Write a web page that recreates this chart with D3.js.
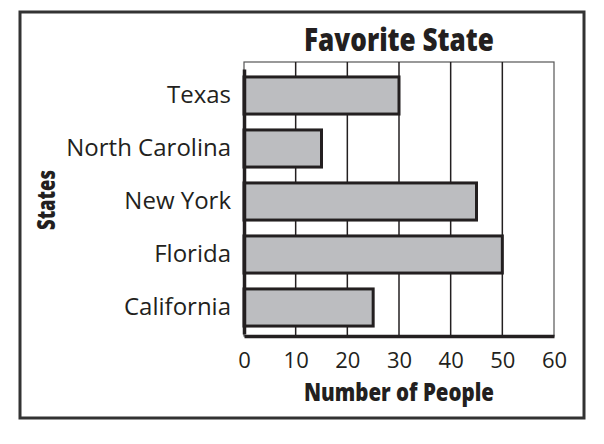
<!DOCTYPE html>
<html>
<head>
<meta charset="utf-8">
<script src="https://cdn.jsdelivr.net/npm/d3@7"></script>
<style>
  body { margin: 0; background: #fff; }
  .label { font-family: "Open Sans", "Noto Sans", sans-serif; fill: #231f20; }
  .heavy { font-family: "Open Sans", "Noto Sans", sans-serif; font-weight: 800; fill: #231f20; }
</style>
</head>
<body>
<div id="chart"></div>
<script>
// Favorite State - horizontal bar chart

let states = ["Texas", "North Carolina", "New York", "Florida", "California"];
let people = [30, 15, 45, 50, 25];
let peopleTicks = [0, 10, 20, 30, 40, 50, 60];

let width = 604, height = 444;
let margin = { top: 62, right: 50, bottom: 108, left: 244 };
let innerW = width - margin.left - margin.right;
let innerH = height - margin.top - margin.bottom;

let svg = d3.select("#chart").append("svg")
    .attr("width", width)
    .attr("height", height);

// outer frame
svg.append("rect")
    .attr("x", 20).attr("y", 12)
    .attr("width", 564).attr("height", 406)
    .attr("fill", "none")
    .attr("stroke", "#333")
    .attr("stroke-width", 3);

let g = svg.append("g")
    .attr("transform", "translate(" + margin.left + "," + margin.top + ")");

let x = d3.scaleLinear()
    .domain([0, 60])
    .range([0, innerW]);

let y = d3.scaleBand()
    .domain(states)
    .range([7, innerH - 2])
    .paddingInner(0.3)
    .paddingOuter(0.15);

// plot box (thin top/right)
g.append("rect")
    .attr("width", innerW).attr("height", innerH)
    .attr("fill", "none")
    .attr("stroke", "#555")
    .attr("stroke-width", 1.2);

// vertical grid lines
g.selectAll(".grid")
    .data(peopleTicks.slice(1, -1))
    .enter().append("line")
    .attr("class", "grid")
    .attr("x1", d => x(d)).attr("x2", d => x(d))
    .attr("y1", 0).attr("y2", innerH)
    .attr("stroke", "#231f20")
    .attr("stroke-width", 1.5);

// bars
g.selectAll(".bar")
    .data(people)
    .enter().append("rect")
    .attr("class", "bar")
    .attr("x", 0)
    .attr("y", (d, i) => y(states[i]))
    .attr("width", d => x(d))
    .attr("height", y.bandwidth())
    .attr("fill", "#bcbdc0")
    .attr("stroke", "#231f20")
    .attr("stroke-width", 3);

// axes
let xAxis = d3.axisBottom(x).tickValues(peopleTicks).tickSize(0).tickPadding(16);
let yAxis = d3.axisLeft(y).tickSize(0).tickPadding(13);

let xg = g.append("g")
    .attr("transform", "translate(0," + innerH + ")")
    .call(xAxis);
xg.select(".domain").attr("stroke", "#231f20").attr("stroke-width", 3.5);
xg.selectAll("text").attr("class", "label").attr("font-size", 22);

let yg = g.append("g").call(yAxis);
yg.select(".domain").attr("stroke", "#231f20").attr("stroke-width", 3.5);
yg.selectAll("text").attr("class", "label").attr("font-size", 24).attr("dy", "0.3em");

// title and axis titles, squeezed to look condensed
svg.append("text")
    .attr("class", "heavy")
    .attr("x", margin.left + innerW / 2)
    .attr("y", 51)
    .attr("text-anchor", "middle")
    .attr("font-size", 31)
    .attr("textLength", 190)
    .attr("lengthAdjust", "spacingAndGlyphs")
    .text("Favorite State");

svg.append("text")
    .attr("class", "heavy")
    .attr("x", margin.left + innerW / 2)
    .attr("y", 401)
    .attr("text-anchor", "middle")
    .attr("font-size", 25)
    .attr("textLength", 190)
    .attr("lengthAdjust", "spacingAndGlyphs")
    .text("Number of People");

svg.append("text")
    .attr("class", "heavy")
    .attr("transform", "translate(55,200) rotate(-90)")
    .attr("text-anchor", "middle")
    .attr("font-size", 24)
    .attr("textLength", 60)
    .attr("lengthAdjust", "spacingAndGlyphs")
    .text("States");
</script>
</body>
</html>
